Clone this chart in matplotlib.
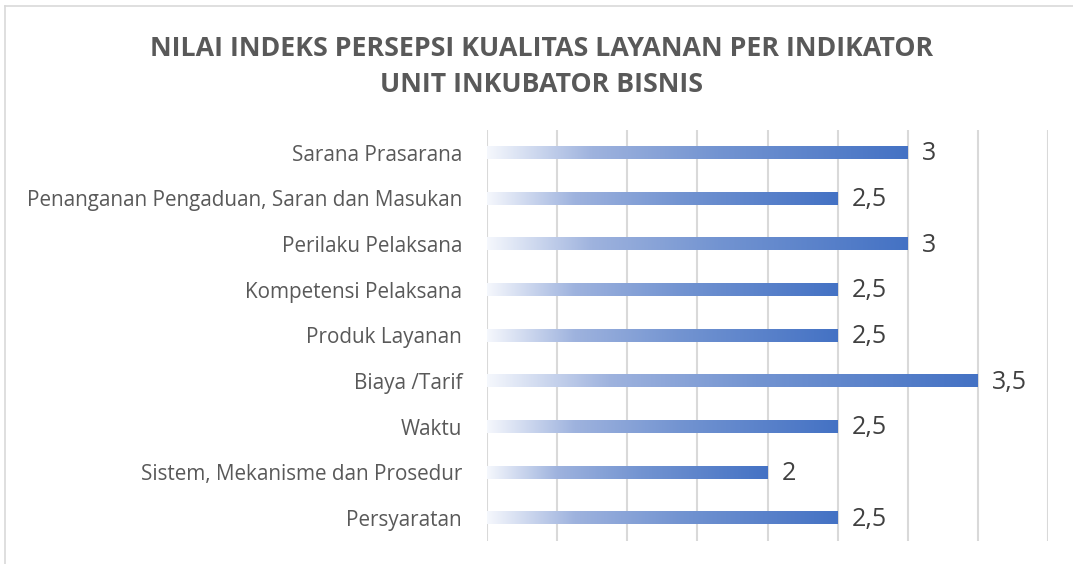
import numpy as np
import matplotlib.pyplot as plt
from matplotlib.colors import LinearSegmentedColormap
from matplotlib.lines import Line2D

kategori = ["Persyaratan", "Sistem, Mekanisme dan Prosedur", "Waktu", "Biaya /Tarif",
            "Produk Layanan", "Kompetensi Pelaksana", "Perilaku Pelaksana",
            "Penanganan Pengaduan, Saran dan Masukan", "Sarana Prasarana"]
nilai = [2.5, 2, 2.5, 3.5, 2.5, 2.5, 3, 2.5, 3]
label_nilai = ["2,5", "2", "2,5", "3,5", "2,5", "2,5", "3", "2,5", "3"]

plt.rcParams['font.family'] = ['Open Sans', 'DejaVu Sans']

fig = plt.figure(figsize=(10.73, 5.64), dpi=100)
ax = fig.add_axes([0.4539, 0.0408, 0.5228, 0.7287])

# gradien putih -> biru
cmap = LinearSegmentedColormap.from_list("grad", [
    (0.0, (0.96, 0.97, 0.99)),
    (0.25, (0.62, 0.70, 0.87)),
    (0.55, (0.45, 0.58, 0.82)),
    (1.0, (0.267, 0.447, 0.769)),
])
grad = np.linspace(0, 1, 256).reshape(1, -1)

tinggi = 0.27
for i, v in enumerate(nilai):
    ax.imshow(grad, cmap=cmap, aspect='auto', interpolation='bilinear',
              extent=[0, v, i - tinggi / 2, i + tinggi / 2], zorder=2)
    ax.text(v + 0.1, i - 0.02, label_nilai[i], va='center', ha='left',
            fontsize=18, color='#404040')

ax.set_xlim(0, 4)
ax.set_ylim(-0.5, len(kategori) - 0.5)
ax.set_xticks(np.arange(0, 4.01, 0.5))
ax.set_xticklabels([])
ax.tick_params(axis='x', length=0)
ax.grid(axis='x', color='#D9D9D9', linewidth=1.5, zorder=0)
ax.set_axisbelow(True)
ax.set_yticks(range(len(kategori)))
ax.set_yticklabels(kategori, fontsize=14.9, color='#595959')
ax.tick_params(axis='y', length=0, pad=18)
for s in ax.spines.values():
    s.set_visible(False)

fig.text(0.505, 0.914, "NILAI INDEKS PERSEPSI KUALITAS LAYANAN PER INDIKATOR",
         ha='center', va='center', fontsize=19.3, fontweight='bold', color='#595959')
fig.text(0.505, 0.8495, "UNIT INKUBATOR BISNIS",
         ha='center', va='center', fontsize=19.3, fontweight='bold', color='#595959')

# bingkai
fig.add_artist(Line2D([5 / 1073, 5 / 1073], [0, 1 - 6 / 564], color='#D9D9D9', lw=1.2))
fig.add_artist(Line2D([5 / 1073, 1], [1 - 6 / 564, 1 - 6 / 564], color='#D9D9D9', lw=1.2))

fig.savefig("out.png", dpi=100)
